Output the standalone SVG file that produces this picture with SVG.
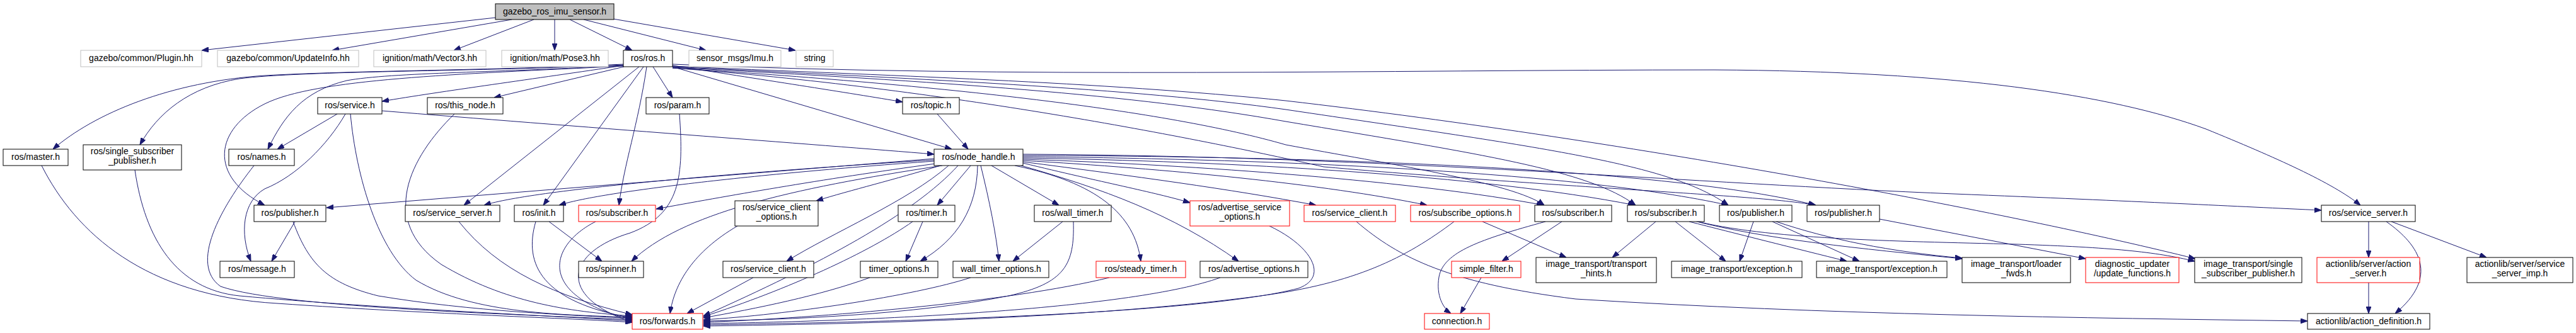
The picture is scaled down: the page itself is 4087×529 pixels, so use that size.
<svg xmlns="http://www.w3.org/2000/svg" width="4087" height="529" viewBox="0 0 4087 529">
<defs>
<marker id="a" markerWidth="11" markerHeight="8" refX="11" refY="4" orient="auto" markerUnits="userSpaceOnUse"><path d="M0,0 L11,4 L0,8 z" fill="#191970" stroke="#191970" stroke-width="1"/></marker>
</defs>
<style>
.n rect{fill:#fff;stroke:#000;stroke-width:1}
.r rect{fill:#fff;stroke:#f00;stroke-width:1}
.x rect{fill:#fff;stroke:#bfbfbf;stroke-width:1}
.root rect{fill:#bfbfbf;stroke:#000;stroke-width:1}
text{font-family:"Liberation Sans",Arial,sans-serif;font-size:14px;text-anchor:middle;fill:#000}
#edges path{fill:none;stroke:#191970;stroke-width:1;marker-end:url(#a)}
</style>
<rect width="4087" height="529" fill="#fff"/>
<g id="edges">
<path d="M786,28 L320,80"/>
<path d="M812,31 L527,80"/>
<path d="M847,31 L720,80"/>
<path d="M880,31 L880,80"/>
<path d="M904,31 L1003,80"/>
<path d="M926,31 L1120,80"/>
<path d="M973,30 L1262,80"/>
<path d="M989,104 C850,125 700,145 606,161"/>
<path d="M990,106 L784,155"/>
<path d="M1036,106 L1067,155"/>
<path d="M1067,104 C1200,125 1350,148 1432,162"/>
<path d="M1067,106 L1510,237"/>
<path d="M1014,106 L736,326"/>
<path d="M1021,106 L862,326"/>
<path d="M1026,106 C1012,200 990,260 982,326"/>
<path d="M989,102 C780,112 560,112 420,120 C270,130 150,180 84,237"/>
<path d="M989,103 C760,114 480,112 380,125 C300,138 250,180 222,230"/>
<path d="M989,104 C800,115 620,115 550,128 C480,145 450,185 425,237"/>
<path d="M989,105 C720,118 500,125 420,165 C340,205 330,280 420,326"/>
<path d="M1067,102 C1600,125 2200,111 2720,111 C3100,113 3350,150 3500,205 C3610,250 3700,290 3745,326"/>
<path d="M1067,105 C1400,120 1750,130 2040,160 C2600,225 3200,340 3483,411"/>
<path d="M1067,106 C1450,125 1800,140 2040,174 C2450,235 2650,260 2742,326"/>
<path d="M1067,107 C1500,130 1800,150 2040,193 C2350,245 2520,270 2595,326"/>
<path d="M1067,108 C1500,135 1850,175 2040,230 C2200,260 2400,290 2450,326"/>
<path d="M1067,108 C1500,140 1900,220 2100,265 C2500,300 2800,310 2880,326"/>
<path d="M1482,252 L518,330"/>
<path d="M1482,254 C1200,272 850,300 768,326"/>
<path d="M1482,256 C1200,276 950,305 887,326"/>
<path d="M1484,260 C1300,285 1150,312 1041,332"/>
<path d="M1492,263 C1420,285 1350,302 1295,319"/>
<path d="M1495,263 C1250,300 1080,340 1002,415"/>
<path d="M1505,263 C1440,320 1320,370 1248,415"/>
<path d="M1540,263 L1487,326"/>
<path d="M1551,263 C1550,330 1520,380 1460,415"/>
<path d="M1556,263 C1570,320 1580,370 1585,415"/>
<path d="M1573,263 L1680,326"/>
<path d="M1610,263 C1740,290 1800,340 1810,415"/>
<path d="M1620,263 C1750,300 1860,340 1965,415"/>
<path d="M1623,259 C1750,290 1830,305 1888,322"/>
<path d="M1623,257 C1800,280 1950,300 2088,326"/>
<path d="M1623,255 C1850,268 2100,292 2264,326"/>
<path d="M1623,253 C1900,262 2250,288 2449,326"/>
<path d="M1623,251 C1950,256 2350,278 2594,326"/>
<path d="M1623,249 C2000,252 2500,272 2742,326"/>
<path d="M1623,247 C2100,248 2650,268 2881,326"/>
<path d="M1623,245 C2200,248 2700,292 3100,308 C3400,320 3550,328 3683,334"/>
<path d="M1520,263 C1450,340 1300,420 1116,502"/>
<path d="M66,263 C120,370 230,470 440,482 C700,500 900,505 1003,512"/>
<path d="M214,270 C230,380 280,460 380,470 C600,490 850,500 1003,510"/>
<path d="M403,263 C350,330 300,420 350,455 C450,490 850,500 1003,508"/>
<path d="M465,352 C490,420 520,450 600,470 C750,495 900,500 1003,506"/>
<path d="M468,352 L431,415"/>
<path d="M548,181 C520,230 470,280 420,300 C385,320 380,370 398,415"/>
<path d="M535,181 L440,237"/>
<path d="M556,181 C565,280 600,400 660,445 C750,500 900,500 1003,504"/>
<path d="M606,176 C900,200 1300,230 1482,245"/>
<path d="M721,181 C650,250 600,350 700,420 C800,480 900,495 1003,502"/>
<path d="M728,352 C790,430 880,470 1003,500"/>
<path d="M850,352 C830,420 860,480 1003,505"/>
<path d="M871,352 L955,415"/>
<path d="M945,352 C870,390 850,470 1003,508"/>
<path d="M1078,181 C1085,280 1080,340 1000,370 C900,400 880,470 1003,512"/>
<path d="M1170,359 C1100,400 1070,450 1063,498"/>
<path d="M1195,441 L1090,498"/>
<path d="M1448,352 C1380,400 1250,460 1116,503"/>
<path d="M1464,352 L1437,415"/>
<path d="M1380,441 C1300,470 1200,490 1116,505"/>
<path d="M1540,441 C1450,470 1250,500 1116,508"/>
<path d="M1686,352 L1607,415"/>
<path d="M1703,352 C1705,420 1690,450 1600,470 C1450,500 1250,508 1116,510"/>
<path d="M1760,441 C1600,480 1300,505 1116,512"/>
<path d="M1936,441 C1800,490 1400,510 1116,514"/>
<path d="M2014,359 C2080,390 2110,440 2060,458 C1900,500 1400,512 1116,516"/>
<path d="M2307,352 C2230,410 2150,450 2000,470 C1700,510 1300,515 1116,518"/>
<path d="M2352,352 L2485,409"/>
<path d="M2152,352 C2220,410 2300,450 2500,475 C2900,500 3300,505 3661,510"/>
<path d="M2452,352 C2350,380 2290,400 2283,440 C2278,470 2290,490 2302,498"/>
<path d="M2478,352 L2383,415"/>
<path d="M2350,441 L2317,498"/>
<path d="M2627,352 L2558,409"/>
<path d="M2658,352 L2738,415"/>
<path d="M2680,352 C2750,370 2850,395 2930,415"/>
<path d="M2684,350 C2800,380 2950,395 3113,411"/>
<path d="M2686,350 C2800,380 3000,383 3200,388 C3350,393 3420,400 3482,415"/>
<path d="M2782,352 L2760,415"/>
<path d="M2812,352 L2950,415"/>
<path d="M2818,352 C2900,380 3000,400 3113,410"/>
<path d="M2982,348 L3309,411"/>
<path d="M3758,352 L3758,409"/>
<path d="M3786,352 C3840,390 3870,440 3800,498"/>
<path d="M3794,352 L3945,409"/>
<path d="M3758,449 L3758,498"/>
<path d="M1487,181 L1536,237"/>
</g>
<g id="n0" class="root"><rect x="786" y="6" width="188" height="25"/><text x="880" y="23">gazebo_ros_imu_sensor.h</text></g>
<g id="n1" class="x"><rect x="128" y="80" width="192" height="26"/><text x="224" y="97">gazebo/common/Plugin.hh</text></g>
<g id="n2" class="x"><rect x="345" y="80" width="224" height="26"/><text x="457" y="97">gazebo/common/UpdateInfo.hh</text></g>
<g id="n3" class="x"><rect x="593" y="80" width="178" height="26"/><text x="682" y="97">ignition/math/Vector3.hh</text></g>
<g id="n4" class="x"><rect x="796" y="80" width="169" height="26"/><text x="880.5" y="97">ignition/math/Pose3.hh</text></g>
<g id="n5" class="n"><rect x="989" y="80" width="78" height="26"/><text x="1028" y="97">ros/ros.h</text></g>
<g id="n6" class="x"><rect x="1093" y="80" width="146" height="26"/><text x="1166" y="97">sensor_msgs/Imu.h</text></g>
<g id="n7" class="x"><rect x="1263" y="80" width="59" height="26"/><text x="1292.5" y="97">string</text></g>
<g id="n8" class="n"><rect x="504" y="155" width="102" height="26"/><text x="555" y="172">ros/service.h</text></g>
<g id="n9" class="n"><rect x="678" y="155" width="120" height="26"/><text x="738" y="172">ros/this_node.h</text></g>
<g id="n10" class="n"><rect x="1025" y="155" width="100" height="26"/><text x="1075" y="172">ros/param.h</text></g>
<g id="n11" class="n"><rect x="1432" y="155" width="90" height="26"/><text x="1477" y="172">ros/topic.h</text></g>
<g id="n12" class="n"><rect x="5" y="237" width="103" height="26"/><text x="56.5" y="254">ros/master.h</text></g>
<g id="n13" class="n"><rect x="132" y="230" width="156" height="40"/><text x="210" y="245">ros/single_subscriber</text><text x="210" y="260">_publisher.h</text></g>
<g id="n14" class="n"><rect x="363" y="237" width="104" height="26"/><text x="415" y="254">ros/names.h</text></g>
<g id="n15" class="n"><rect x="1482" y="237" width="141" height="26"/><text x="1552.5" y="254">ros/node_handle.h</text></g>
<g id="n16" class="n"><rect x="403" y="326" width="114" height="26"/><text x="460" y="343">ros/publisher.h</text></g>
<g id="n17" class="n"><rect x="643" y="326" width="150" height="26"/><text x="718" y="343">ros/service_server.h</text></g>
<g id="n18" class="n"><rect x="816" y="326" width="78" height="26"/><text x="855" y="343">ros/init.h</text></g>
<g id="n19" class="r"><rect x="918" y="326" width="122" height="26"/><text x="979" y="343">ros/subscriber.h</text></g>
<g id="n20" class="n"><rect x="1166" y="319" width="132" height="40"/><text x="1232" y="334">ros/service_client</text><text x="1232" y="349">_options.h</text></g>
<g id="n21" class="n"><rect x="1425" y="326" width="90" height="26"/><text x="1470" y="343">ros/timer.h</text></g>
<g id="n22" class="n"><rect x="1641" y="326" width="122" height="26"/><text x="1702" y="343">ros/wall_timer.h</text></g>
<g id="n23" class="r"><rect x="1888" y="319" width="158" height="40"/><text x="1967" y="334">ros/advertise_service</text><text x="1967" y="349">_options.h</text></g>
<g id="n24" class="r"><rect x="2069" y="326" width="145" height="26"/><text x="2141.5" y="343">ros/service_client.h</text></g>
<g id="n25" class="r"><rect x="2238" y="326" width="173" height="26"/><text x="2324.5" y="343">ros/subscribe_options.h</text></g>
<g id="n26" class="n"><rect x="2435" y="326" width="122" height="26"/><text x="2496" y="343">ros/subscriber.h</text></g>
<g id="n27" class="n"><rect x="2582" y="326" width="122" height="26"/><text x="2643" y="343">ros/subscriber.h</text></g>
<g id="n28" class="n"><rect x="2728" y="326" width="115" height="26"/><text x="2785.5" y="343">ros/publisher.h</text></g>
<g id="n29" class="n"><rect x="2867" y="326" width="115" height="26"/><text x="2924.5" y="343">ros/publisher.h</text></g>
<g id="n30" class="n"><rect x="3683" y="326" width="149" height="26"/><text x="3757.5" y="343">ros/service_server.h</text></g>
<g id="n31" class="n"><rect x="349" y="415" width="118" height="26"/><text x="408" y="432">ros/message.h</text></g>
<g id="n32" class="n"><rect x="918" y="415" width="103" height="26"/><text x="969.5" y="432">ros/spinner.h</text></g>
<g id="n33" class="n"><rect x="1147" y="415" width="144" height="26"/><text x="1219" y="432">ros/service_client.h</text></g>
<g id="n34" class="n"><rect x="1365" y="415" width="123" height="26"/><text x="1426.5" y="432">timer_options.h</text></g>
<g id="n35" class="n"><rect x="1512" y="415" width="152" height="26"/><text x="1588" y="432">wall_timer_options.h</text></g>
<g id="n36" class="r"><rect x="1739" y="415" width="142" height="26"/><text x="1810" y="432">ros/steady_timer.h</text></g>
<g id="n37" class="n"><rect x="1904" y="415" width="171" height="26"/><text x="1989.5" y="432">ros/advertise_options.h</text></g>
<g id="n38" class="r"><rect x="2303" y="415" width="110" height="26"/><text x="2358" y="432">simple_filter.h</text></g>
<g id="n39" class="n"><rect x="2437" y="409" width="191" height="40"/><text x="2532.5" y="424">image_transport/transport</text><text x="2532.5" y="439">_hints.h</text></g>
<g id="n40" class="n"><rect x="2652" y="415" width="207" height="26"/><text x="2755.5" y="432">image_transport/exception.h</text></g>
<g id="n41" class="n"><rect x="2882" y="415" width="207" height="26"/><text x="2985.5" y="432">image_transport/exception.h</text></g>
<g id="n42" class="n"><rect x="3113" y="409" width="172" height="40"/><text x="3199" y="424">image_transport/loader</text><text x="3199" y="439">_fwds.h</text></g>
<g id="n43" class="r"><rect x="3309" y="409" width="148" height="40"/><text x="3383" y="424">diagnostic_updater</text><text x="3383" y="439">/update_functions.h</text></g>
<g id="n44" class="n"><rect x="3482" y="409" width="170" height="40"/><text x="3567" y="424">image_transport/single</text><text x="3567" y="439">_subscriber_publisher.h</text></g>
<g id="n45" class="r"><rect x="3676" y="409" width="163" height="40"/><text x="3757.5" y="424">actionlib/server/action</text><text x="3757.5" y="439">_server.h</text></g>
<g id="n46" class="n"><rect x="3914" y="409" width="168" height="40"/><text x="3998" y="424">actionlib/server/service</text><text x="3998" y="439">_server_imp.h</text></g>
<g id="n47" class="r"><rect x="1003" y="498" width="112" height="25"/><text x="1059" y="515">ros/forwards.h</text></g>
<g id="n48" class="r"><rect x="2260" y="498" width="103" height="25"/><text x="2311.5" y="515">connection.h</text></g>
<g id="n49" class="n"><rect x="3661" y="498" width="194" height="25"/><text x="3758" y="515">actionlib/action_definition.h</text></g>
</svg>
